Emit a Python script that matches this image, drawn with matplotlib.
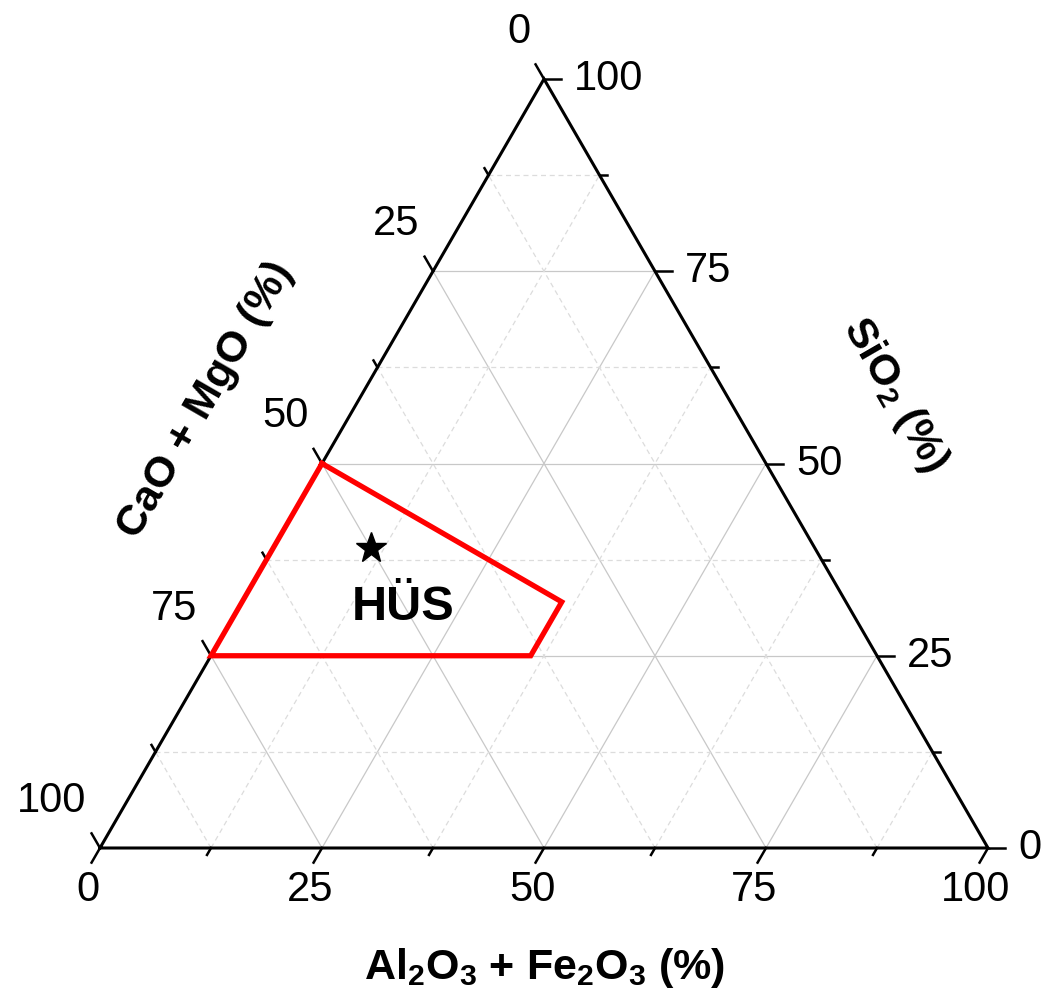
import matplotlib
matplotlib.use("Agg")
import matplotlib.pyplot as plt
import numpy as np

plt.rcParams['font.family'] = ['Liberation Sans', 'DejaVu Sans']
plt.rcParams['mathtext.fontset'] = 'custom'
plt.rcParams['mathtext.rm'] = 'Liberation Sans:bold'

# region boundary (Al2O3+Fe2O3, SiO2, CaO+MgO) in %
region_a = [0, 36, 36, 0, 0]
region_s = [50, 32, 25, 25, 50]

# HÜS sample
hus_a = [11]
hus_s = [39]

major = [0, 25, 50, 75, 100]
minor = [12.5, 37.5, 62.5, 87.5]

H = np.sqrt(3) / 2


def to_xy(a, s):
    a = np.asarray(a, dtype=float)
    s = np.asarray(s, dtype=float)
    return a + s / 2, s * H


fig = plt.figure(figsize=(10.42, 9.97), dpi=100)
ax = fig.add_axes([0, 0, 1, 1])
ax.set_xlim(-11.26, 106.08)
ax.set_ylim(-16.78, 95.5)
ax.axis('off')

# grid
for v, ls, col in [(g, '-', '#c8c8c8') for g in major[1:-1]] + [(g, (0, (4, 3)), '#dcdcdc') for g in minor]:
    # constant A: from bottom to right edge
    x, y = to_xy([v, v], [0, 100 - v])
    ax.plot(x, y, ls=ls, color=col, lw=0.9, zorder=1)
    # constant S: horizontal
    x, y = to_xy([0, 100 - v], [v, v])
    ax.plot(x, y, ls=ls, color=col, lw=0.9, zorder=1)
    # constant C: A + S = 100 - C
    c = v
    x, y = to_xy([100 - c, 0], [0, 100 - c])
    ax.plot(x, y, ls=ls, color=col, lw=0.9, zorder=1)

# triangle frame
x, y = to_xy([0, 100, 0, 0], [0, 0, 100, 0])
ax.plot(x, y, color='black', lw=2.2, zorder=3, solid_joinstyle='miter')

# ticks
for v in major + minor:
    L = 1.9 if v in major else 0.9
    # bottom (A): down-left, parallel to left edge
    x0, y0 = to_xy(v, 0)
    ax.plot([x0, x0 - 0.5 * L], [y0, y0 - H * L], color='black', lw=1.8, zorder=3)
    # right (S): horizontal to the right
    x0, y0 = to_xy(100 - v, v)
    ax.plot([x0, x0 + L], [y0, y0], color='black', lw=1.8, zorder=3)
    # left (C): up-left
    x0, y0 = to_xy(0, 100 - v)
    ax.plot([x0, x0 - 0.5 * L], [y0, y0 + H * L], color='black', lw=1.8, zorder=3)

# tick labels
for v in major:
    x0, y0 = to_xy(v, 0)
    ax.text(x0 - 1.35, y0 - 4.7, str(v), fontsize=30, ha='center', va='center')
    x0, y0 = to_xy(100 - v, v)
    ax.text(x0 + 3.4, y0, str(v), fontsize=30, ha='left', va='center')
    x0, y0 = to_xy(0, 100 - v)
    ax.text(x0 - 1.5, y0 + 5.3, str(v), fontsize=30, ha='right', va='center')

# axis titles
ax.text(50.1, -13.5, r'Al$_2$O$_3$ + Fe$_2$O$_3$ (%)', fontsize=31,
        fontweight='bold', ha='center', va='center')
ax.text(11.9, 50.5, 'CaO + MgO (%)', fontsize=31, fontweight='bold',
        ha='center', va='center', rotation=60, rotation_mode='anchor')
ax.text(89.5, 51.0, r'SiO$_2$ (%)', fontsize=31, fontweight='bold',
        ha='center', va='center', rotation=-60, rotation_mode='anchor')

# region and sample
x, y = to_xy(region_a, region_s)
ax.plot(x, y, color='#ff0000', lw=3.8, zorder=4, solid_joinstyle='miter')
x, y = to_xy(hus_a, hus_s)
ax.plot(x, y, marker='*', color='black', ms=23, ls='none', zorder=5)
ax.text(34.1, 27.1, 'HÜS', fontsize=35, fontweight='bold', ha='center', va='center')

fig.savefig('out.png', dpi=100)
